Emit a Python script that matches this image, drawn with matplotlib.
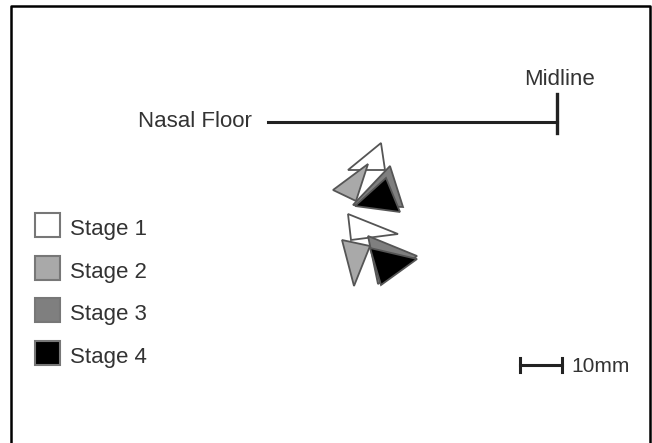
import matplotlib.pyplot as plt
from matplotlib.patches import Polygon

plt.rcParams['font.family'] = ['Liberation Sans', 'DejaVu Sans']

# stages and colours
stages = ["Stage 1", "Stage 2", "Stage 3", "Stage 4"]
fills = ["white", "#a9a9a9", "#7f7f7f", "black"]

# triangle vertices (picture coords) for the two clusters
upper = [
    [(381, 143), (348, 170), (385, 170)],
    [(368, 164), (333, 190), (356, 201)],
    [(390, 166), (353, 205), (403, 207)],
    [(386, 178), (355, 206), (400, 212)],
]
lower = [
    [(348, 214), (351, 240), (398, 234)],
    [(342, 240), (370, 246), (354, 286)],
    [(368, 236), (417, 256), (378, 284)],
    [(370, 248), (417, 259), (381, 285)],
]

fig = plt.figure(figsize=(6.52, 4.43), dpi=100)
ax = fig.add_axes([0, 0, 1, 1])
ax.set_xlim(0, 652)
ax.set_ylim(443, 0)
ax.axis('off')

# frame (no bottom edge)
ax.plot([11, 11, 650, 650], [443, 5.5, 5.5, 443], color='black', lw=1.8)

# nasal floor line and midline tick
ax.plot([268, 557], [122, 122], color='#222222', lw=2.2)
ax.plot([557, 557], [94, 133], color='#222222', lw=2.4)
ax.text(252, 127, "Nasal Floor", ha='right', va='baseline', fontsize=16, color='#333333')
ax.text(560, 85, "Midline", ha='center', va='baseline', fontsize=16, color='#333333')

for cluster in (upper, lower):
    for tri, c in zip(cluster, fills):
        ax.add_patch(Polygon(tri, closed=True, facecolor=c, edgecolor='#555555', lw=1.3))

# legend
leg_y = [225, 268, 310, 353]
for y, c, s in zip(leg_y, fills, stages):
    ax.add_patch(Polygon([(35, y - 12), (60, y - 12), (60, y + 12), (35, y + 12)], closed=True,
                         facecolor=c, edgecolor='#777777', lw=1.5))
    ax.text(70, y + 10, s, ha='left', va='baseline', fontsize=16, color='#333333')

# scale bar
ax.plot([520, 562], [365, 365], color='#222222', lw=2.2)
ax.plot([520, 520], [358, 372], color='#222222', lw=2.2)
ax.plot([562, 562], [358, 372], color='#222222', lw=2.2)
ax.text(571, 372, "10mm", ha='left', va='baseline', fontsize=15, color='#333333')

fig.savefig("out.png", dpi=100)
